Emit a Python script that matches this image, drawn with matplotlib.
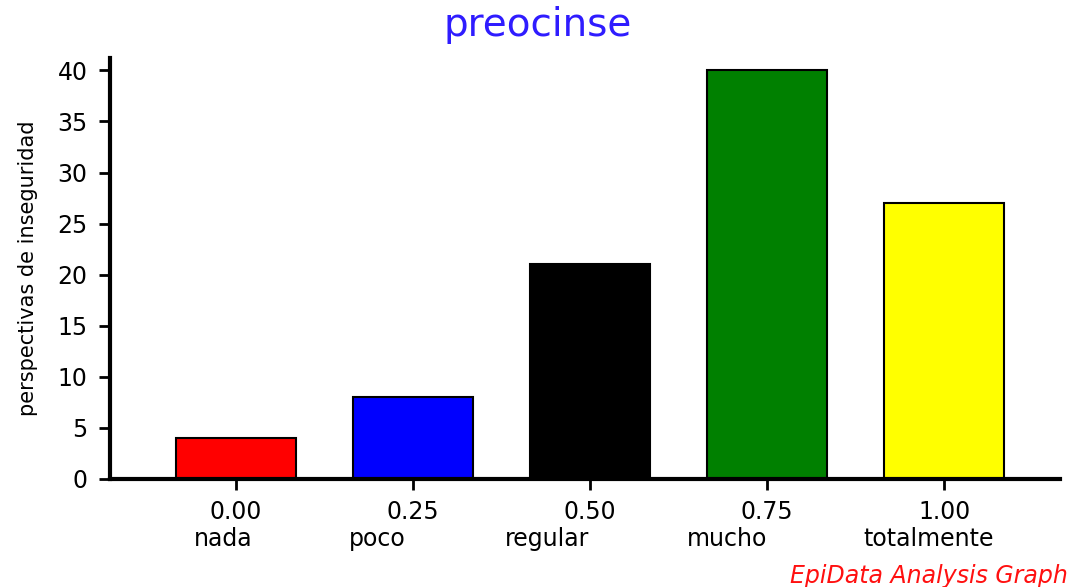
import numpy as np
import matplotlib
matplotlib.use("Agg")
import matplotlib.pyplot as plt

plt.rcParams["font.family"] = ["DejaVu Sans"]

# data
codes = ["0.00", "0.25", "0.50", "0.75", "1.00"]
names = ["nada", "poco", "regular", "mucho", "totalmente"]
counts = [4, 8, 21, 40, 27]
bar_colors = ["#FF0000", "#0000FF", "#000000", "#008000", "#FFFF00"]
yticks = [0, 5, 10, 15, 20, 25, 30, 35, 40]

# small left shift of the category names under each code (data units)
name_shift = [-0.07, -0.2, -0.245, -0.225, -0.09]

fig = plt.figure(figsize=(10.76, 5.87), dpi=100)
ax = fig.add_axes([0.1022, 0.184, 0.883, 0.717])

x = np.arange(len(counts))
ax.bar(x, counts, width=0.68, color=bar_colors, edgecolor="black", linewidth=1.5, zorder=2)

ax.set_xlim(-0.712, 4.655)
ax.set_ylim(0, 41.2)
ax.set_xticks(x)
ax.set_xticklabels(codes, fontsize=17)
ax.set_yticks(yticks)
ax.set_yticklabels([str(v) for v in yticks], fontsize=17)
ax.tick_params(axis="both", direction="out", length=8, width=2, color="black")
ax.tick_params(axis="x", pad=7)
ax.tick_params(axis="y", pad=8)

for s in ["top", "right"]:
    ax.spines[s].set_visible(False)
for s in ["left", "bottom"]:
    ax.spines[s].set_linewidth(3)

for i, nm in enumerate(names):
    ax.text(x[i] + name_shift[i], -0.1425, nm, transform=ax.get_xaxis_transform(),
            ha="center", va="center", fontsize=17)

ax.set_ylabel("perspectivas de inseguridad", fontsize=15, labelpad=14)

fig.text(0.5, 0.957, "preocinse", ha="center", va="center", fontsize=28, color="#2f1cff")
fig.text(0.992, 0.019, "EpiData Analysis Graph", ha="right", va="center",
         fontsize=17, color="#ff1010", style="italic")

fig.savefig("out.png", dpi=100)
